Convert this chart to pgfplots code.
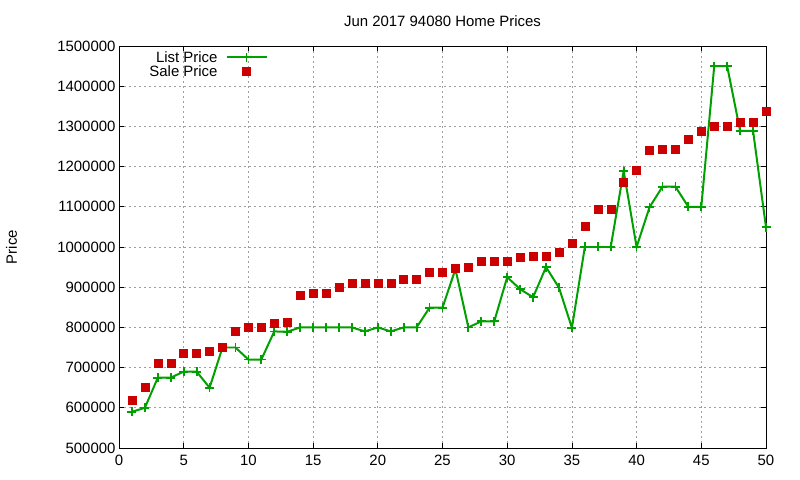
\documentclass[border=0pt]{standalone}
\usepackage{fontspec}
\setmainfont{Liberation Sans}
\usepackage{pgfplots}
\pgfplotsset{compat=1.18}
\definecolor{gpgreen}{RGB}{0,160,0}
\definecolor{gpred}{RGB}{204,0,0}
\pgfplotsset{
  listlegend/.style={legend image code/.code={\path (0bp,0bp) (46bp,0bp);\draw[mark repeat=2,mark phase=2,##1] plot coordinates {(6bp,0bp)(26bp,0bp)(46bp,0bp)};}},
  salelegend/.style={legend image code/.code={\path (0bp,0bp) (46bp,0bp);\draw[##1] plot coordinates {(26bp,0bp)};}},
}
\begin{document}
\begin{tikzpicture}
\begin{axis}[
  scale only axis,
  width=647bp, height=402bp,
  xmin=0, xmax=50, ymin=500000, ymax=1500000,
  xtick={0,5,...,50},
  ytick={500000,600000,...,1500000},
  scaled ticks=false,
  /pgf/number format/assume math mode=true,
  yticklabel style={/pgf/number format/fixed,/pgf/number format/1000 sep={}},
  xticklabel style={yshift=-4bp},
  tick label style={font=\fontsize{15}{17}\selectfont},
  label style={font=\fontsize{15}{17}\selectfont},
  title style={font=\fontsize{15}{17}\selectfont, yshift=10bp},
  title={Jun 2017 94080 Home Prices},
  ylabel={Price},
  ylabel style={at={(axis description cs:-0.166,0.5)}, anchor=center},
  tick align=inside,
  major tick length=5bp,
  grid=major,
  major grid style={dash pattern=on 2bp off 3bp, gray!75, line width=0.8pt},
  axis line style={line width=0.9pt},
  every tick/.style={black, line width=0.8pt},
  legend plot pos=right,
  legend cell align=right,
  legend style={draw=none, fill=none, at={(0.039,0.9975)}, anchor=north west,
    font=\fontsize{15}{16}\selectfont, row sep=-2bp},
]
\addplot[gpgreen, line width=2pt, mark=+, mark size=4.5bp, mark options={line width=1.8pt}, listlegend] coordinates {
(1,590000)(2,600000)(3,675000)(4,675000)(5,690000)(6,690000)(7,650000)(8,750000)(9,750000)(10,720000)
(11,720000)(12,790000)(13,789000)(14,800000)(15,800000)(16,800000)(17,800000)(18,800000)(19,790000)(20,800000)
(21,790000)(22,800000)(23,800000)(24,849000)(25,849000)(26,945000)(27,800000)(28,815000)(29,815000)(30,925000)
(31,895000)(32,875000)(33,950000)(34,899000)(35,799000)(36,1000000)(37,1000000)(38,1000000)(39,1189000)(40,1000000)
(41,1099000)(42,1150000)(43,1150000)(44,1100000)(45,1100000)(46,1450000)(47,1450000)(48,1289000)(49,1289000)(50,1049000)
};
\addlegendentry{List Price}
\addplot[only marks, mark=square*, mark size=4bp, gpred, mark options={draw=gpred, fill=gpred}, salelegend] coordinates {
(1,620000)(2,652000)(3,710000)(4,710000)(5,735000)(6,735000)(7,742000)(8,750000)(9,790000)(10,800000)
(11,800000)(12,810000)(13,812000)(14,880000)(15,885000)(16,885000)(17,900000)(18,910000)(19,910000)(20,910000)
(21,910000)(22,920000)(23,920000)(24,938000)(25,938000)(26,948000)(27,950000)(28,965000)(29,965000)(30,965000)
(31,975000)(32,978000)(33,978000)(34,988000)(35,1010000)(36,1052000)(37,1095000)(38,1095000)(39,1162000)(40,1192000)
(41,1241000)(42,1243000)(43,1243000)(44,1268000)(45,1288000)(46,1300000)(47,1300000)(48,1310000)(49,1310000)(50,1338000)
};
\addlegendentry{Sale Price}
\end{axis}
\path (current axis.south west) ++(-119bp,-32bp) rectangle ++(800bp,480bp);
\end{tikzpicture}
\end{document}
